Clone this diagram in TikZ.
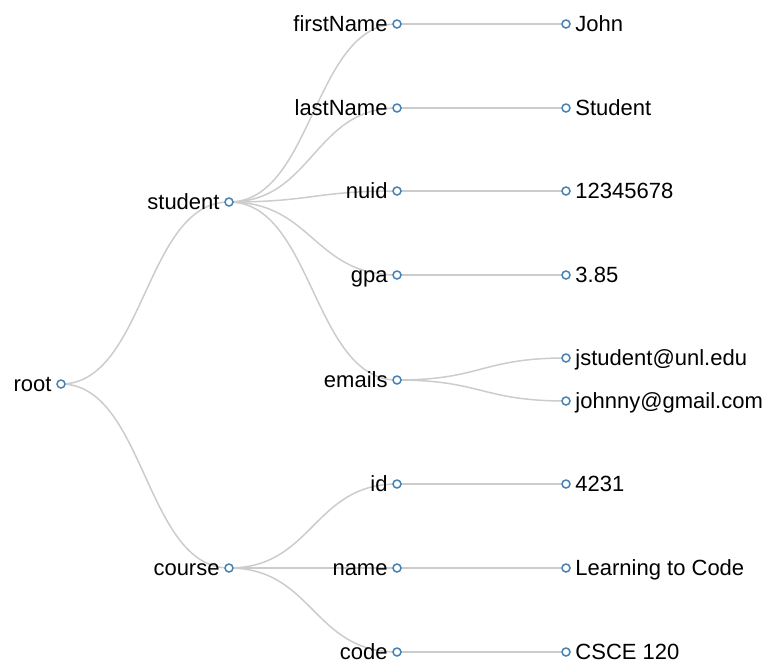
\documentclass[tikz,border=0pt]{standalone}
\usepackage{fontspec}
\setmainfont{Liberation Sans}
\usetikzlibrary{calc,backgrounds}
\definecolor{steelblue}{HTML}{4682B4}
\definecolor{linkgray}{HTML}{CCCCCC}
% curved link, control points half way across
\newcommand{\treelink}[2]{%
  \draw[link] let \p1=(#1), \p2=(#2) in (\p1) .. controls ({(\x1+\x2)/2},\y1) and ({(\x1+\x2)/2},\y2) .. (\p2);}

\begin{document}
\begin{tikzpicture}[x=1pt, y=-1pt, font=\fontsize{22}{26}\selectfont, label distance=4.5pt,
	dot/.style={circle, draw=steelblue, fill=white, line width=1.5pt, inner sep=0pt, minimum size=8pt},
	lbl/.style={inner sep=0pt, text height=14pt, text depth=0pt},
	inner/.style={dot, label={[lbl]left:#1}},
	leaf/.style={dot, label={[lbl]right:#1}},
	link/.style={draw=linkgray, line width=1.5pt}]
			\useasboundingbox (0,0) rectangle (763,662);
			%depth 0 and 1
			\node[inner=root] (root) at (61,384) {};
			\node[inner=student] (student) at (229,202) {};
			\node[inner=course] (course) at (229,568) {};
			%depth 2
			\node[inner=firstName] (firstName) at (397,24) {};
			\node[inner=lastName] (lastName) at (397,108) {};
			\node[inner=nuid] (nuid) at (397,191) {};
			\node[inner=gpa] (gpa) at (397,275) {};
			\node[inner=emails] (emails) at (397,380) {};
			\node[inner=id] (id) at (397,484) {};
			\node[inner=name] (name) at (397,568) {};
			\node[inner=code] (code) at (397,652) {};
			%leaves
			\node[leaf=John] (fnVal) at (566,24) {};
			\node[leaf=Student] (lnVal) at (566,108) {};
			\node[leaf=12345678] (nuidVal) at (566,191) {};
			\node[leaf=3.85] (gpaVal) at (566,275) {};
			\node[leaf=jstudent@unl.edu] (emailA) at (566,358) {};
			\node[leaf=johnny@gmail.com] (emailB) at (566,401) {};
			\node[leaf=4231] (idVal) at (566,484) {};
			\node[leaf=Learning to Code] (nameVal) at (566,568) {};
			\node[leaf=CSCE 120] (codeVal) at (566,652) {};
			%links behind the dots
			\begin{pgfonlayer}{background}
				\treelink{root}{student}
				\treelink{root}{course}
				\foreach \c in {firstName,lastName,nuid,gpa,emails}
					{\treelink{student}{\c}}
				\foreach \c in {id,name,code}
					{\treelink{course}{\c}}
				\treelink{firstName}{fnVal}
				\treelink{lastName}{lnVal}
				\treelink{nuid}{nuidVal}
				\treelink{gpa}{gpaVal}
				\treelink{emails}{emailA}
				\treelink{emails}{emailB}
				\treelink{id}{idVal}
				\treelink{name}{nameVal}
				\treelink{code}{codeVal}
			\end{pgfonlayer}
		\end{tikzpicture}
\end{document}
